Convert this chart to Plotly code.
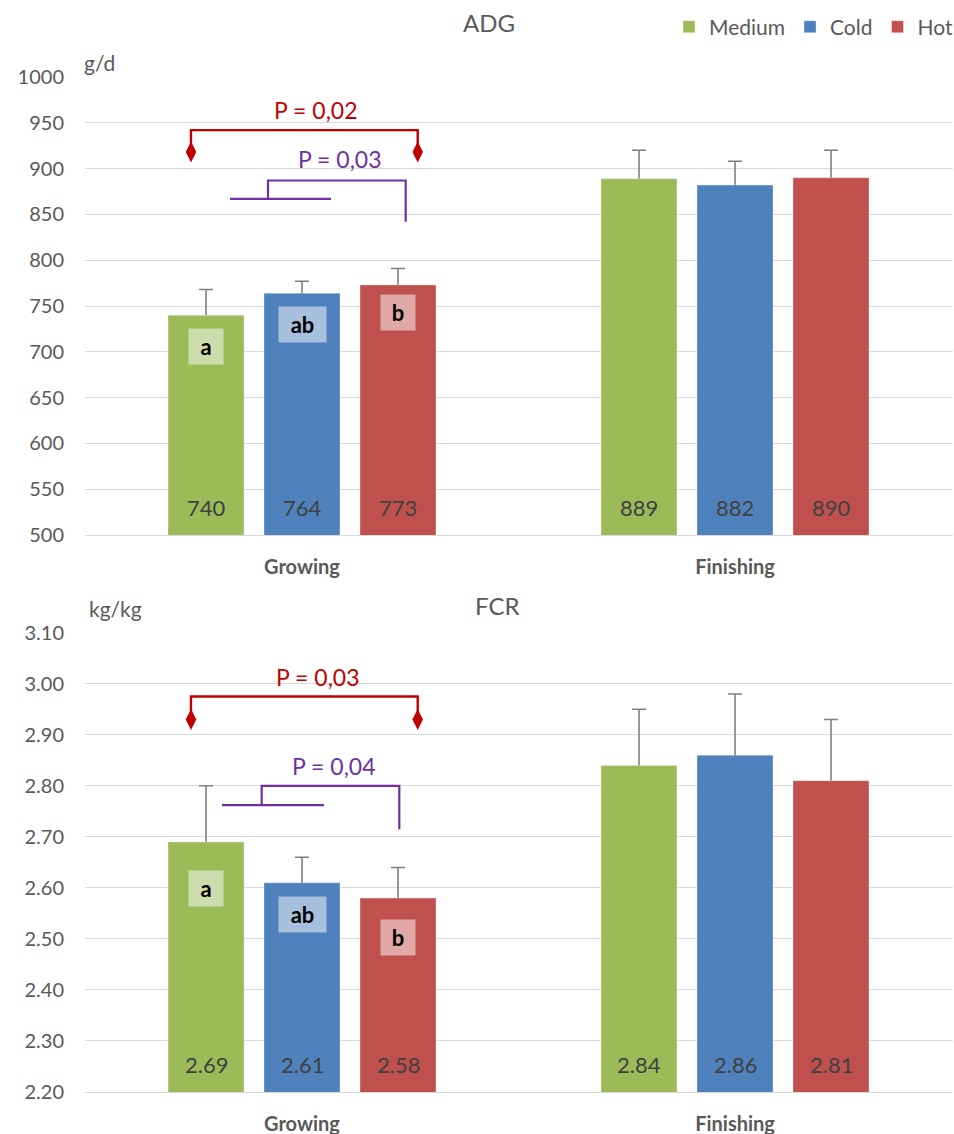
import plotly.graph_objects as go

# ---------------- data ----------------
stages = ["Growing", "Finishing"]
treatments = ["Medium", "Cold", "Hot"]

# Average daily gain (g/d) and its standard error
adg_medium = [740, 889]
adg_cold = [764, 882]
adg_hot = [773, 890]
adg_se_medium = [28, 31]
adg_se_cold = [13, 26]
adg_se_hot = [18, 30]

# Feed conversion ratio (kg/kg) and its standard error
fcr_medium = [2.69, 2.84]
fcr_cold = [2.61, 2.86]
fcr_hot = [2.58, 2.81]
fcr_se_medium = [0.11, 0.11]
fcr_se_cold = [0.05, 0.12]
fcr_se_hot = [0.06, 0.12]

# significance letters for the growing phase
growing_letters = ["a", "ab", "b"]

adg_ticks = [500, 550, 600, 650, 700, 750, 800, 850, 900, 950, 1000]
fcr_ticks = [2.2, 2.3, 2.4, 2.5, 2.6, 2.7, 2.8, 2.9, 3.0, 3.1]

# ---------------- style ----------------
FONT = "Lato"
GREY = "#595959"
bar_colors = ["#9bbb59", "#4f81bd", "#c0504d"]
tag_colors = ["#cddcac", "#a7c0de", "#e0a8a6"]
RED = "#c00000"
PURPLE = "#7030a0"

SLOT = 96 / 433      # spacing between neighbouring bars (category units)
BAR_W = 76 / 433     # bar width (category units)
X_RANGE = [-217 / 433, 651 / 433]

W, H = 954, 1134

panels = [
    dict(xa="x", ya="y", means=[adg_medium, adg_cold, adg_hot],
         ses=[adg_se_medium, adg_se_cold, adg_se_hot],
         fmt="{:.0f}", ymin=500, ymax=1000, ticks=adg_ticks, tickfmt="d",
         domain=[1 - 535 / H, 1 - 77 / H],
         tag_shift=[31, 31, 28], title="ADG", title_xy=(489, 22),
         unit="g/d", unit_xy=(82, 62)),
    dict(xa="x2", ya="y2", means=[fcr_medium, fcr_cold, fcr_hot],
         ses=[fcr_se_medium, fcr_se_cold, fcr_se_hot],
         fmt="{:.2f}", ymin=2.2, ymax=3.1, ticks=fcr_ticks, tickfmt=".2f",
         domain=[1 - 1092 / H, 1 - 632.7 / H],
         tag_shift=[47, 32, 39], title="FCR", title_xy=(497, 605),
         unit="kg/kg", unit_xy=(87, 608)),
]

fig = go.Figure()
annotations = []


def paper_xy(px, py):
    return (px - 85) / 868, 1 - py / H


for p_i, pn in enumerate(panels):
    for j, name in enumerate(treatments):
        xs = [i + (j - 1) * SLOT for i in range(len(stages))]
        means = pn["means"][j]
        # whiskers first, so the bar body drawn next hides their lower half
        fig.add_trace(go.Bar(
            x=xs, y=means, width=BAR_W, xaxis=pn["xa"], yaxis=pn["ya"],
            marker=dict(color="rgba(0,0,0,0)"),
            error_y=dict(type="data", array=pn["ses"][j], color="#7f7f7f",
                         thickness=1.6, width=7),
            showlegend=False, hoverinfo="skip"))
        fig.add_trace(go.Bar(
            x=xs, y=means, width=BAR_W, xaxis=pn["xa"], yaxis=pn["ya"],
            name=name, legendgroup=name, showlegend=(p_i == 0),
            marker=dict(color=bar_colors[j],
                        line=dict(color="rgba(255,255,255,0.35)", width=1))))
        # value printed near the foot of each bar
        for k, v in enumerate(means):
            annotations.append(dict(
                x=xs[k], y=pn["ymin"], xref=pn["xa"], yref=pn["ya"],
                yshift=28, yanchor="middle", text=pn["fmt"].format(v),
                showarrow=False,
                font=dict(family=FONT, size=22, color="#404040")))
        # significance letter inside the growing-phase bar
        letter = growing_letters[j]
        annotations.append(dict(
            x=xs[0], y=means[0], xref=pn["xa"], yref=pn["ya"],
            yshift=-pn["tag_shift"][j], yanchor="middle", text=letter,
            showarrow=False,
            font=dict(family=FONT, size=22, color="black", weight="bold"),
            bgcolor=tag_colors[j], width=34 if len(letter) == 1 else 47,
            height=35, borderpad=0))

    # panel title and unit label
    tx, ty = paper_xy(*pn["title_xy"])
    annotations.append(dict(
        x=tx, y=ty, xref="paper", yref="paper", xanchor="center",
        yanchor="middle", text=pn["title"], showarrow=False,
        font=dict(family=FONT, size=24, color=GREY)))
    ux, uy = paper_xy(*pn["unit_xy"])
    annotations.append(dict(
        x=ux, y=uy, xref="paper", yref="paper", xanchor="left",
        yanchor="middle", text=pn["unit"], showarrow=False,
        font=dict(family=FONT, size=21, color=GREY)))


def bracket_traces(xa, ya, red_x, red_top, red_end, purple_low, purple_stem,
                   purple_top, purple_drop):
    """Red bracket with diamond ends and purple nested bracket."""
    x0, x1 = red_x
    fig.add_trace(go.Scatter(
        x=[x0, x0, x1, x1], y=[red_end, red_top, red_top, red_end],
        mode="lines+markers", xaxis=xa, yaxis=ya,
        line=dict(color=RED, width=2.4),
        marker=dict(symbol="diamond-tall", size=[15, 0, 0, 15], color=RED,
                    opacity=1, line=dict(width=0)),
        showlegend=False, hoverinfo="skip"))
    lx0, lx1, ly = purple_low
    sx = purple_stem
    fig.add_trace(go.Scatter(
        x=[lx0, lx1, None, sx, sx, purple_drop[0], purple_drop[0]],
        y=[ly, ly, None, ly, purple_top, purple_top, purple_drop[1]],
        mode="lines", xaxis=xa, yaxis=ya,
        line=dict(color=PURPLE, width=2.2),
        showlegend=False, hoverinfo="skip"))


bracket_traces("x", "y", (-0.2564, 0.2672), 942, 918,
               (-0.1663, 0.0670, 867), -0.0785, 887, (0.2395, 842))
bracket_traces("x2", "y2", (-0.2564, 0.2672), 2.975, 2.93,
               (-0.1848, 0.0508, 2.762), -0.0931, 2.80, (0.2247, 2.715))

p_labels = [
    ("x", "y", 0.032, 964, "P = 0,02", RED),
    ("x", "y", 0.088, 910.5, "P = 0,03", PURPLE),
    ("x2", "y2", 0.037, 3.014, "P = 0,03", RED),
    ("x2", "y2", 0.073, 2.839, "P = 0,04", PURPLE),
]
for xa, ya, x, y, txt, col in p_labels:
    annotations.append(dict(x=x, y=y, xref=xa, yref=ya, text=txt,
                            yanchor="middle", showarrow=False,
                            font=dict(family=FONT, size=23, color=col)))

axis_common = dict(range=X_RANGE, tickvals=[0, 1], ticktext=stages,
                   showgrid=False, zeroline=False, showline=True,
                   linecolor="#d9d9d9", linewidth=1, ticks="",
                   ticklabelstandoff=14, fixedrange=True, automargin=False,
                   tickfont=dict(family=FONT, size=20, color=GREY,
                                 weight="bold"))

lx, ly = paper_xy(958, 27)
layout = dict(
    width=W, height=H, barmode="overlay",
    paper_bgcolor="white", plot_bgcolor="white",
    margin=dict(l=85, r=1, t=0, b=0, autoexpand=False),
    font=dict(family=FONT, color=GREY),
    annotations=annotations,
    showlegend=True,
    legend=dict(orientation="h", x=lx, xanchor="right",
                y=ly, yanchor="middle",
                font=dict(family=FONT, size=21, color=GREY),
                bgcolor="rgba(0,0,0,0)", itemwidth=30, traceorder="normal"),
    xaxis=dict(axis_common, anchor="y", domain=[0, 1]),
    xaxis2=dict(axis_common, anchor="y2", domain=[0, 1]),
)
for pn in panels:
    key = "yaxis" if pn["ya"] == "y" else "yaxis2"
    layout[key] = dict(
        domain=pn["domain"], range=[pn["ymin"], pn["ymax"]],
        anchor=pn["xa"], tickvals=pn["ticks"], tickformat=pn["tickfmt"],
        showgrid=True, gridcolor="#d9d9d9", gridwidth=1, zeroline=False,
        ticks="", ticklabelstandoff=20, fixedrange=True, automargin=False,
        tickfont=dict(family=FONT, size=20, color=GREY))

fig.update_layout(**layout)
fig.write_html("out.html")
